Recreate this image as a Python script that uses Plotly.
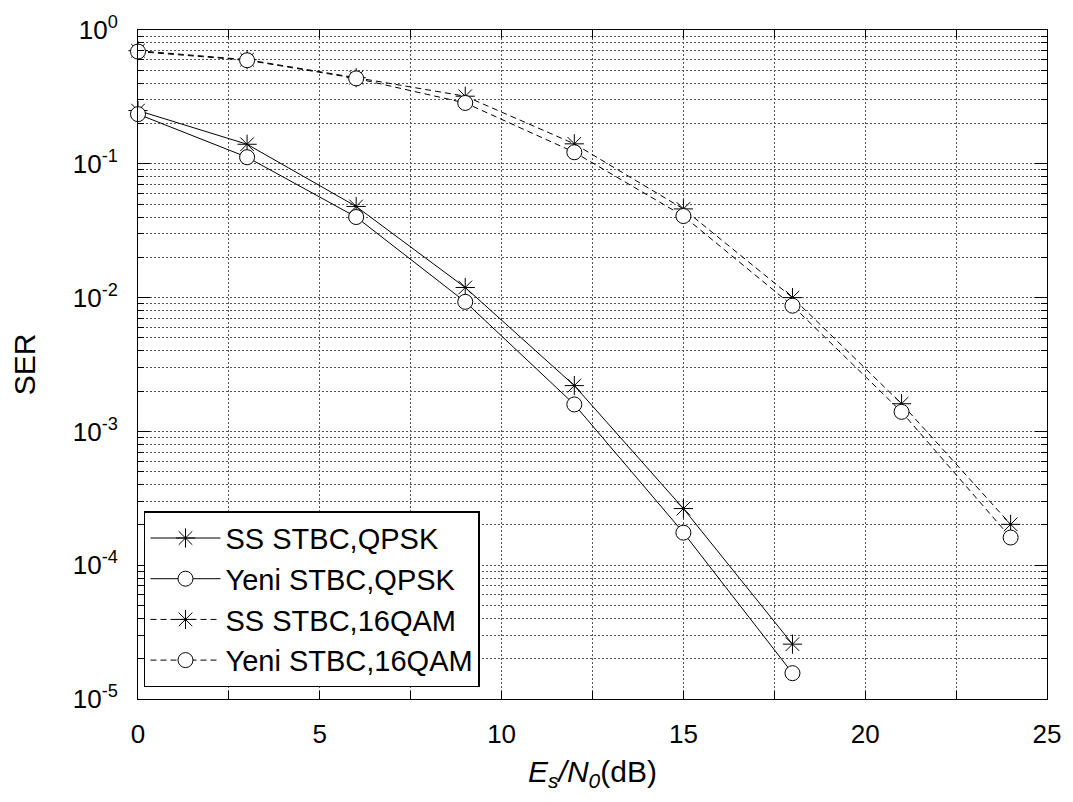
import plotly.graph_objects as go

snr_qpsk = [0, 3, 6, 9, 12, 15, 18]
ss_qpsk = [0.25, 0.14, 0.048, 0.0119, 0.0022, 0.000265, 0.0000257]
yeni_qpsk = [0.235, 0.112, 0.040, 0.0093, 0.00159, 0.000175, 0.0000156]

snr_16qam = [0, 3, 6, 9, 12, 15, 18, 21, 24]
ss_16qam = [0.70, 0.60, 0.44, 0.32, 0.141, 0.046, 0.0100, 0.00161, 0.000202]
yeni_16qam = [0.69, 0.594, 0.435, 0.285, 0.122, 0.0407, 0.0087, 0.00140, 0.000161]

names = ["SS STBC,QPSK", "Yeni STBC,QPSK", "SS STBC,16QAM", "Yeni STBC,16QAM"]

FONT = "Liberation Sans, Arial, sans-serif"
dash16 = "6px,4px"

fig = go.Figure()
series = [
    (snr_qpsk, ss_qpsk, names[0], "solid", "star"),
    (snr_qpsk, yeni_qpsk, names[1], "solid", "circle"),
    (snr_16qam, ss_16qam, names[2], dash16, "star"),
    (snr_16qam, yeni_16qam, names[3], dash16, "circle"),
]
for x, y, name, dash, mk in series:
    if mk == "star":
        marker = dict(symbol="asterisk-open", size=16, color="black",
                      line=dict(color="black", width=1))
    else:
        marker = dict(symbol="circle", size=15, color="white",
                      line=dict(color="black", width=1))
    fig.add_trace(go.Scatter(x=x, y=y, name=name, mode="lines+markers",
                             line=dict(color="black", width=1, dash=dash),
                             marker=marker, cliponaxis=False))

y_major = [10 ** e for e in range(-5, 1)]
y_text = ["10<sup>%d</sup>" % e for e in range(-5, 1)]
y_minor = [m * 10 ** e for e in range(-5, 0) for m in range(2, 10)]

grid = dict(showgrid=True, gridcolor="#555555", gridwidth=1, griddash="2px,2px")

fig.update_layout(
    width=1073, height=802,
    margin=dict(l=138, r=24, t=21, b=103),
    paper_bgcolor="white", plot_bgcolor="white",
    font=dict(family=FONT, size=26, color="black"),
    showlegend=True,
    legend=dict(x=0.0066, y=0.0177, xanchor="left", yanchor="bottom",
                bgcolor="white", bordercolor="black", borderwidth=1.5,
                font=dict(size=29, family=FONT), tracegroupgap=0,
                itemwidth=70),
    xaxis=dict(range=[0, 25], tickmode="array", tickvals=[0, 5, 10, 15, 20, 25],
               ticks="inside", ticklen=8, tickcolor="black",
               showline=True, linecolor="black", linewidth=1, mirror="ticks",
               zeroline=False, ticklabelstandoff=12,
               tickfont=dict(size=26),
               minor=dict(tickmode="array", tickvals=[2.5, 7.5, 12.5, 17.5, 22.5],
                          ticks="inside", ticklen=8, tickcolor="black", **grid),
               title=dict(text="<i>E</i><sub><i>s</i></sub><i>/N</i><sub><i>0</i></sub>(dB)",
                          font=dict(size=30), standoff=12),
               **grid),
    yaxis=dict(type="log", range=[-5, 0], tickmode="array", tickvals=y_major,
               ticktext=y_text, ticks="inside", ticklen=12, tickcolor="black",
               showline=True, linecolor="black", linewidth=1, mirror="ticks",
               zeroline=False, ticklabelstandoff=14,
               tickfont=dict(size=26),
               minor=dict(tickmode="array", tickvals=y_minor,
                          ticks="inside", ticklen=6, tickcolor="black", **grid),
               title=dict(text="SER", font=dict(size=30), standoff=28),
               **grid),
)

fig.write_html("out.html")
